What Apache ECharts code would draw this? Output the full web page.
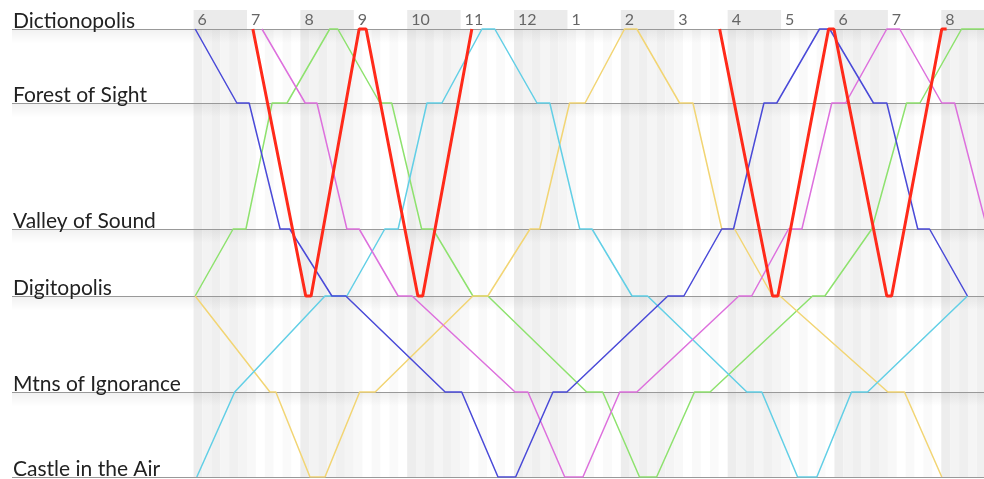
<!DOCTYPE html>
<html>
<head>
<meta charset="utf-8">
<title>Trains</title>
<script src="https://cdn.jsdelivr.net/npm/echarts@6.0.0/dist/echarts.min.js"></script>
<style>
html, body { margin: 0; padding: 0; background: #fff; }
#chart { width: 984px; height: 479px; }
</style>
</head>
<body>
<div id="chart"></div>
<script>
// stations and their distance down the line
const stations = ['Dictionopolis', 'Forest of Sight', 'Valley of Sound', 'Digitopolis', 'Mtns of Ignorance', 'Castle in the Air']
const stationDist = [0, 74, 200, 267, 363, 448]

// hour ticks (24h) and the labels shown on top
const hours = [6, 7, 8, 9, 10, 11, 12, 13, 14, 15, 16, 17, 18, 19, 20]
const hourLabels = ['6', '7', '8', '9', '10', '11', '12', '1', '2', '3', '4', '5', '6', '7', '8']
const shadedHours = [6, 8, 10, 12, 14, 16, 18, 20]

// trains: [time in hours, station index]
const blueTrain = [[6.03,0],[6.81,1],[7.04,1],[7.62,2],[7.80,2],[8.59,3],[8.85,3],[10.71,4],[11.02,4],[11.70,5],[12.03,5],
  [12.73,4],[12.99,4],[14.88,3],[15.18,3],[15.89,2],[16.11,2],[16.68,1],[16.92,1],[17.72,0],[17.91,0],
  [18.73,1],[18.98,1],[19.56,2],[19.78,2],[20.49,3]]
const redTrainAm = [[7.11,0],[8.10,3],[8.20,3],[9.10,0],[9.23,0],[10.20,3],[10.29,3],[11.21,0]]
const redTrainPm = [[15.85,0],[16.84,3],[16.94,3],[17.89,0],[17.99,0],[18.98,3],[19.07,3],[20.01,0],[20.10,0]]
const magentaTrain = [[7.28,0],[8.09,1],[8.31,1],[8.87,2],[9.10,2],[9.83,3],[10.09,3],[12.02,4],[12.26,4],[12.95,5],[13.29,5],
  [13.98,4],[14.30,4],[16.21,3],[16.45,3],[17.14,2],[17.39,2],[17.95,1],[18.21,1],[18.98,0],[19.22,0],
  [20.01,1],[20.25,1],[20.86,2]]
const greenTrain = [[6.03,3],[6.74,2],[6.98,2],[7.47,1],[7.75,1],[8.55,0],[8.70,0],[9.49,1],[9.71,1],[10.27,2],[10.48,2],
  [11.23,3],[11.51,3],[13.36,4],[13.66,4],[14.35,5],[14.67,5],[15.38,4],[15.67,4],[17.59,3],[17.82,3],
  [18.70,2],[19.35,1],[19.60,1],[20.38,0],[20.85,0]]
const cyanTrain = [[6.06,5],[6.77,4],[8.46,3],[8.87,3],[9.58,2],[9.83,2],[10.37,1],[10.65,1],[11.40,0],[11.64,0],
  [12.43,1],[12.67,1],[13.23,2],[13.46,2],[14.21,3],[14.50,3],[16.36,4],[16.64,4],[17.31,5],[17.67,5],
  [18.32,4],[18.62,4],[20.49,3]]
const yellowTrain = [[6.03,3],[7.43,4],[7.54,4],[8.18,5],[8.46,5],[9.11,4],[9.40,4],[11.23,3],[11.51,3],[12.30,2],[12.48,2],
  [13.04,1],[13.33,1],[14.07,0],[14.30,0],[15.10,1],[15.35,1],[15.89,2],[16.13,2],[16.84,3],[16.98,3],
  [19.00,4],[19.31,4],[20.01,5]]

const font = 'Lato'
const xMin = 2.6, xMax = 20.8

function toPoints(train) {
    return train.map(p => [p[0], stationDist[p[1]]])
}

// background: hour columns with ten minute stripes
let bands = []
for (let h = 6; h < 21; h++) {
    let shaded = shadedHours.indexOf(h) >= 0
    let cols = shaded ? ['#ededed', '#f3f3f3', '#efefef', '#f5f5f5', '#f0f0f0', '#f4f4f4']
                      : ['#f8f8f8', '#ffffff', '#f9f9f9', '#ffffff', '#fafafa', '#ffffff']
    for (let k = 0; k < 6; k++) {
        bands.push([{ xAxis: h + k / 6, yAxis: 0, itemStyle: { color: cols[k] } }, { xAxis: h + (k + 1) / 6, yAxis: 448 }])
    }
    if (shaded) {
        bands.push([{ xAxis: h, yAxis: -19, itemStyle: { color: '#ebebeb' } }, { xAxis: h + 1, yAxis: 0 }])
    }
}
// soft shadow under each station line
stationDist.forEach(d => {
    bands.push([{ yAxis: d, itemStyle: { color: {
        type: 'linear', x: 0, y: 0, x2: 0, y2: 1,
        colorStops: [{ offset: 0, color: 'rgba(0,0,0,0.06)' }, { offset: 1, color: 'rgba(0,0,0,0)' }]
    } } }, { yAxis: d + 14 }])
})

function trainSeries(name, data, color, width) {
    return {
        name: name,
        type: 'line',
        data: toPoints(data),
        symbol: 'none',
        z: 5,
        lineStyle: { color: color, width: width },
        silent: true,
        animation: false
    }
}

const myChart = echarts.init(document.getElementById('chart'))
myChart.setOption({
    animation: false,
    grid: { left: 12, right: 0, top: 10, bottom: 2 },
    xAxis: {
        type: 'value',
        min: xMin,
        max: xMax,
        position: 'top',
        z: 10,
        axisLine: { show: false },
        axisTick: { show: false },
        splitLine: { show: false },
        axisLabel: {
            inside: true,
            customValues: hours,
            formatter: v => hourLabels[hours.indexOf(v)],
            align: 'left',
            padding: [0, 0, 0, 4],
            margin: 2,
            color: '#666',
            fontSize: 16,
            fontFamily: font
        }
    },
    yAxis: {
        type: 'value',
        inverse: true,
        min: -19,
        max: 448,
        show: false
    },
    series: [
        {
            type: 'line',
            data: [[6, 0]],
            symbol: 'none',
            lineStyle: { opacity: 0 },
            z: 1,
            silent: true,
            markArea: { silent: true, data: bands },
            markLine: {
                silent: true,
                symbol: ['none', 'none'],
                lineStyle: { color: '#999', width: 1, type: 'solid' },
                label: {
                    position: 'insideStartTop',
                    formatter: '{b}',
                    distance: [1, -3],
                    color: '#222',
                    fontSize: 21,
                    fontFamily: font
                },
                data: stations.map((s, i) => ({ name: s, yAxis: stationDist[i] }))
            }
        },
        trainSeries('green', greenTrain, '#8ee26e', 1.5),
        trainSeries('yellow', yellowTrain, '#f2d574', 1.5),
        trainSeries('cyan', cyanTrain, '#62cfe6', 1.5),
        trainSeries('magenta', magentaTrain, '#dd70dd', 1.5),
        trainSeries('blue', blueTrain, '#4a4ad8', 1.5),
        trainSeries('red', redTrainAm, '#ff2a1a', 3),
        trainSeries('red', redTrainPm, '#ff2a1a', 3)
    ]
})
window.addEventListener('resize', () => {
    if (myChart) myChart.resize()
})
</script>
</body>
</html>
